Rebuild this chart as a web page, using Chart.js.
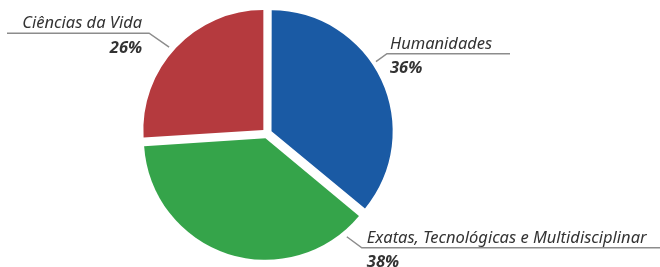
<!DOCTYPE html>
<html>
<head>
<meta charset="utf-8">
<script src="https://cdn.jsdelivr.net/npm/chart.js@4"></script>
<style>
  html, body { margin: 0; padding: 0; background: #fff; }
  #wrap { width: 660px; height: 267px; }
</style>
</head>
<body>
<div id="wrap"><canvas id="pie"></canvas></div>
<script>
const categories = ['Humanidades', 'Exatas, Tecnológicas e Multidisciplinar', 'Ciências da Vida'];
const shares = [36, 38, 26];
const sliceColors = ['#1a5aa4', '#35a44a', '#b53a3e'];

// label placement: angle (deg, clockwise from top) where the leader starts,
// elbow offset from that point, end of the horizontal rule, text offsets
const labelLayout = [
  { angle: 56.6, elbow: [11, -8], lineTo: 510, textDx: 3, align: 'left' },
  { angle: 142.3, elbow: [15, 11], lineTo: 660, textDx: 5, align: 'left' },
  { angle: 311.4, elbow: [-20, -14], lineTo: 7, textDx: -7, align: 'right' }
];

const leaderLabels = {
  id: 'leaderLabels',
  afterDraw(chart) {
    const ctx = chart.ctx;
    const arcs = chart.getDatasetMeta(0).data;
    ctx.save();
    arcs.forEach((arc, i) => {
      const lay = labelLayout[i];
      const a = lay.angle * Math.PI / 180;
      const r = arc.outerRadius + 10.5;
      const sx = arc.x + Math.sin(a) * r;
      const sy = arc.y - Math.cos(a) * r;
      const ex = sx + lay.elbow[0];
      const ey = sy + lay.elbow[1];

      ctx.strokeStyle = '#8c8c8c';
      ctx.lineWidth = 1.5;
      ctx.beginPath();
      ctx.moveTo(sx, sy);
      ctx.lineTo(ex, ey);
      ctx.lineTo(lay.lineTo, ey);
      ctx.stroke();

      ctx.fillStyle = '#333';
      ctx.textAlign = lay.align;
      ctx.textBaseline = 'alphabetic';
      ctx.font = 'italic 16.5px "Noto Sans"';
      ctx.fillText(categories[i], ex + lay.textDx, ey - 5);
      ctx.font = 'italic bold 16.5px "Noto Sans"';
      ctx.fillText(shares[i] + '%', ex + lay.textDx, ey + 19.5);
    });
    ctx.restore();
  }
};

new Chart(document.getElementById('pie'), {
  type: 'pie',
  data: {
    labels: categories,
    datasets: [{
      data: shares,
      backgroundColor: sliceColors,
      borderWidth: 0,
      offset: 20,
      hoverOffset: 0
    }]
  },
  options: {
    responsive: true,
    maintainAspectRatio: false,
    animation: false,
    layout: { padding: { top: 3.5, bottom: 3.5, left: 0, right: 126 } },
    plugins: {
      legend: { display: false },
      tooltip: { enabled: false }
    }
  },
  plugins: [leaderLabels]
});
</script>
</body>
</html>
